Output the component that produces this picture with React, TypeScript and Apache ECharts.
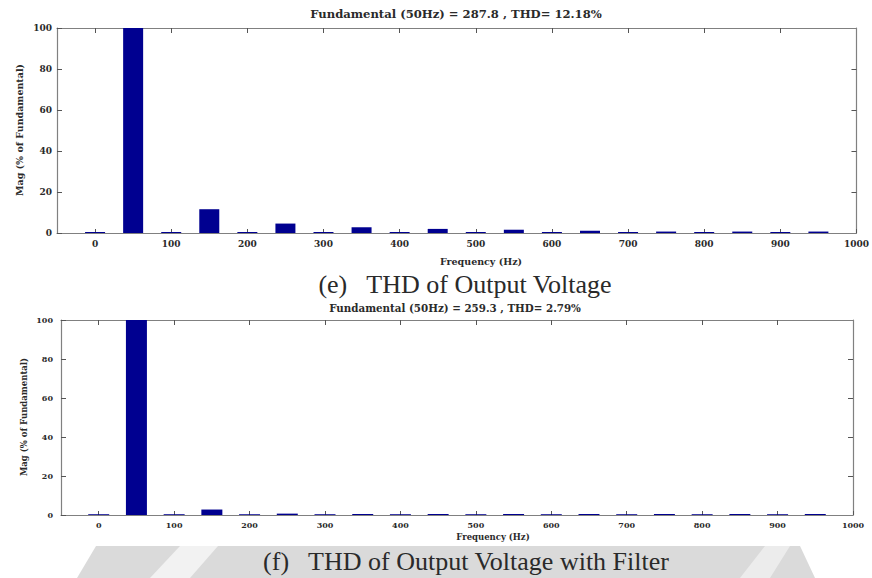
import React, { useEffect, useRef } from "react";
import * as echarts from "echarts";

// Harmonic frequencies (Hz)
const freqs = [0, 50, 100, 150, 200, 250, 300, 350, 400, 450, 500, 550, 600, 650, 700, 750, 800, 850, 900, 950];
// (e) Output voltage spectrum, % of fundamental
const magE = [0.5, 100, 0.5, 11.6, 0.5, 4.6, 0.5, 2.8, 0.5, 2.0, 0.5, 1.6, 0.5, 1.1, 0.5, 0.7, 0.5, 0.7, 0.5, 0.7];
// (f) Output voltage with filter spectrum, % of fundamental
const magF = [0.4, 100, 0.4, 2.8, 0.4, 0.7, 0.4, 0.5, 0.4, 0.5, 0.4, 0.5, 0.4, 0.5, 0.4, 0.5, 0.4, 0.5, 0.4, 0.5];

const xTicks = [0, 100, 200, 300, 400, 500, 600, 700, 800, 900, 1000];
const xTopTicks = [0, 100, 200, 300, 400, 500, 600, 700, 800, 900];
const yRightTicks = [20, 40, 60, 80];

const titleE = "Fundamental (50Hz) = 287.8 , THD= 12.18%";
const titleF = "Fundamental (50Hz) = 259.3 , THD= 2.79%";
const captionE = "(e)   THD of Output Voltage";
const captionF = "(f)   THD of Output Voltage with Filter";
const xName = "Frequency (Hz)";
const yName = "Mag (% of Fundamental)";

const BAR = "#000090";
const AXIS = "#808080";
const TXT = "#2a2a2a";
const SERIF_B = "DejaVu Serif";

export default function App() {
  const ref = useRef<HTMLDivElement>(null);
  useEffect(() => {
    if (!ref.current) return;
    const chart = echarts.init(ref.current, null, { renderer: "svg" });

    const mkX = (gi: number, fs: number, margin: number) => [
      {
        type: "value", gridIndex: gi, min: -50, max: 1000, position: "bottom",
        axisLine: { show: true, onZero: false, lineStyle: { color: AXIS, width: 1.2 } },
        axisTick: { show: true, inside: true, length: 4, lineStyle: { color: "#555" }, customValues: xTicks },
        axisLabel: { show: true, customValues: xTicks, margin, formatter: (v: number) => String(v), fontFamily: SERIF_B, fontWeight: "bold", fontSize: fs, color: TXT },
        splitLine: { show: false },
      },
      {
        type: "value", gridIndex: gi, min: -50, max: 1000, position: "top",
        axisLine: { show: true, onZero: false, lineStyle: { color: AXIS, width: 1.2 } },
        axisTick: { show: true, inside: true, length: 5, lineStyle: { color: "#555" }, customValues: xTopTicks },
        axisLabel: { show: false },
        splitLine: { show: false },
      },
    ];
    const mkY = (gi: number, fs: number, margin: number) => [
      {
        type: "value", gridIndex: gi, min: 0, max: 100, interval: 20, position: "left",
        axisLine: { show: true, onZero: false, lineStyle: { color: AXIS, width: 1.2 } },
        axisTick: { show: true, inside: true, length: 5, lineStyle: { color: "#555" } },
        axisLabel: { show: true, margin, fontFamily: SERIF_B, fontWeight: "bold", fontSize: fs, color: TXT },
        splitLine: { show: false },
      },
      {
        type: "value", gridIndex: gi, min: 0, max: 100, position: "right",
        axisLine: { show: true, onZero: false, lineStyle: { color: AXIS, width: 1.2 } },
        axisTick: { show: true, inside: true, length: 5, lineStyle: { color: "#555" }, customValues: yRightTicks },
        axisLabel: { show: false },
        splitLine: { show: false },
      },
    ];

    const txt = (x: number, y: number, text: string, fs: number, bold: boolean, family: string, rotation = 0) => ({
      type: "text", x, y, rotation, z: 10,
      style: { text, fontSize: fs, fontWeight: bold ? "bold" : "normal", fontFamily: family, fill: TXT, align: "center", verticalAlign: "middle" },
    });

    chart.setOption({
      animation: false,
      backgroundColor: "#ffffff",
      grid: [
        { left: 57, top: 28, width: 804, height: 205 },
        { left: 61, top: 320, width: 792, height: 195 },
      ],
      xAxis: [...mkX(0, 9, 6), ...mkX(1, 8, 6)],
      yAxis: [...mkY(0, 9, 5), ...mkY(1, 8, 8)],
      series: [
        {
          type: "bar", xAxisIndex: 0, yAxisIndex: 0, barWidth: 20,
          itemStyle: { color: BAR },
          data: freqs.map((f, i) => [f, magE[i]]),
        },
        {
          type: "bar", xAxisIndex: 2, yAxisIndex: 2, barWidth: 21,
          itemStyle: { color: BAR },
          data: freqs.map((f, i) => [f, magF[i]]),
        },
      ],
      graphic: [
        // watermark band at bottom
        { type: "polygon", z: -1, shape: { points: [[77, 578], [96, 546], [800, 546], [815, 578]] }, style: { fill: "#dadada" } },
        { type: "polygon", z: -1, shape: { points: [[150, 578], [190, 578], [218, 546], [180, 546]] }, style: { fill: "#f2f2f2" } },
        { type: "polygon", z: -1, shape: { points: [[740, 578], [770, 578], [790, 546], [765, 546]] }, style: { fill: "#ececec" } },
        txt(456, 14, titleE, 11.6, true, SERIF_B),
        txt(455, 308, titleF, 10.3, true, SERIF_B),
        txt(481, 261, xName, 9.5, true, SERIF_B),
        txt(493, 537, xName, 8.5, true, SERIF_B),
        txt(19, 130, yName, 9.5, true, SERIF_B, Math.PI / 2),
        txt(24, 417, yName, 8.5, true, SERIF_B, Math.PI / 2),
        txt(465, 284, captionE, 26, false, "Liberation Serif"),
        txt(466, 561, captionF, 26, false, "Liberation Serif"),
      ],
    });
    return () => chart.dispose();
  }, []);
  return <div ref={ref} style={{ position: "absolute", left: 0, top: 0, width: 872, height: 578 }} />;
}
